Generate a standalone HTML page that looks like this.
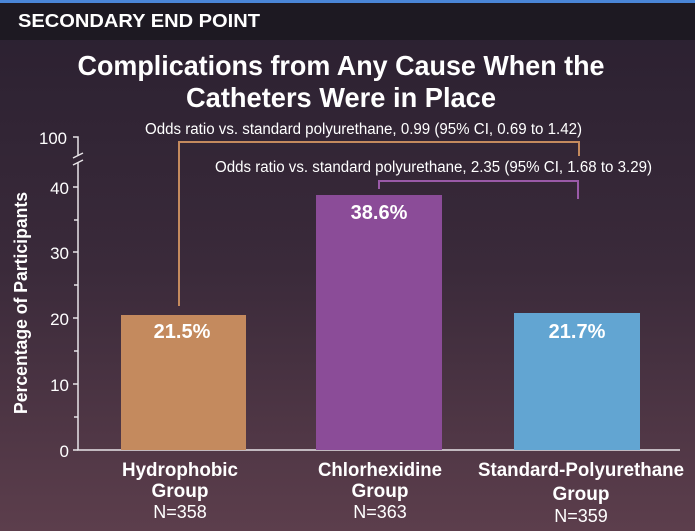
<!DOCTYPE html>
<html><head><meta charset="utf-8"><style>
html,body{margin:0;padding:0;width:695px;height:531px;overflow:hidden;}
svg{display:block;font-family:"Liberation Sans",sans-serif;}
</style></head><body>
<svg width="695" height="531" viewBox="0 0 695 531" xmlns="http://www.w3.org/2000/svg">
<defs><linearGradient id="bg" x1="0" y1="0" x2="0" y2="1">
<stop offset="0" stop-color="#2a2030"/><stop offset="0.5" stop-color="#3a2a3a"/><stop offset="1" stop-color="#5c3e4c"/></linearGradient></defs>
<rect width="695" height="531" fill="url(#bg)"/>
<rect width="695" height="40" fill="#1d1922"/>
<rect width="695" height="3" fill="#4a86d8"/>
<text x="18" y="27" fill="#fff" font-size="18" font-weight="bold" textLength="242" lengthAdjust="spacingAndGlyphs">SECONDARY END POINT</text>
<text x="341" y="75" fill="#fff" font-size="28" font-weight="bold" text-anchor="middle" textLength="527" lengthAdjust="spacingAndGlyphs">Complications from Any Cause When the</text>
<text x="341" y="107" fill="#fff" font-size="28" font-weight="bold" text-anchor="middle" textLength="310" lengthAdjust="spacingAndGlyphs">Catheters Were in Place</text>
<text x="145" y="134" fill="#fff" font-size="15.5" textLength="437" lengthAdjust="spacingAndGlyphs">Odds ratio vs. standard polyurethane, 0.99 (95% CI, 0.69 to 1.42)</text>
<text x="215" y="172" fill="#fff" font-size="15.5" textLength="437" lengthAdjust="spacingAndGlyphs">Odds ratio vs. standard polyurethane, 2.35 (95% CI, 1.68 to 3.29)</text>
<g stroke="#e8e4e8" stroke-width="1.5" fill="none">
<path d="M73 137H78V156M78 163V450H680"/>
<path d="M73 158L83 153M73 165L83 160"/>
<path d="M73 187H78M73 252H78M73 318H78M73 384H78M73 450H78M74 220H78M74 285H78M74 351H78M74 417H78"/>
</g>
<g fill="#fff" font-size="17" text-anchor="end">
<text x="67" y="144" textLength="28" lengthAdjust="spacingAndGlyphs">100</text><text x="69" y="194">40</text><text x="69" y="259">30</text><text x="69" y="325">20</text><text x="69" y="391">10</text><text x="69" y="457">0</text>
</g>
<text transform="translate(27,303) rotate(-90)" fill="#fff" font-size="18" font-weight="bold" text-anchor="middle" textLength="222" lengthAdjust="spacingAndGlyphs">Percentage of Participants</text>
<rect x="121" y="315" width="125" height="135" fill="#c48a5e"/>
<rect x="316" y="195" width="126" height="255" fill="#8b4c98"/>
<rect x="514" y="313" width="126" height="137" fill="#62a5d2"/>
<g fill="#fff" font-size="20" font-weight="bold" text-anchor="middle">
<text x="182" y="338">21.5%</text><text x="379" y="219">38.6%</text><text x="577" y="338">21.7%</text>
</g>
<path d="M179 306V142H579V156" stroke="#c48a5e" stroke-width="2" fill="none"/>
<path d="M379 189V181H578V199" stroke="#9a5aa8" stroke-width="2" fill="none"/>
<g fill="#fff" font-size="19" text-anchor="middle">
<text x="180" y="476" font-weight="bold" textLength="116" lengthAdjust="spacingAndGlyphs">Hydrophobic</text>
<text x="180" y="497" font-weight="bold">Group</text>
<text x="180" y="518" font-size="18">N=358</text>
<text x="380" y="476" font-weight="bold" textLength="124" lengthAdjust="spacingAndGlyphs">Chlorhexidine</text>
<text x="380" y="497" font-weight="bold">Group</text>
<text x="380" y="518" font-size="18">N=363</text>
<text x="581" y="476" font-weight="bold" textLength="206" lengthAdjust="spacingAndGlyphs">Standard-Polyurethane</text>
<text x="581" y="500" font-weight="bold">Group</text>
<text x="581" y="522" font-size="18">N=359</text>
</g>
</svg>
</body></html>
